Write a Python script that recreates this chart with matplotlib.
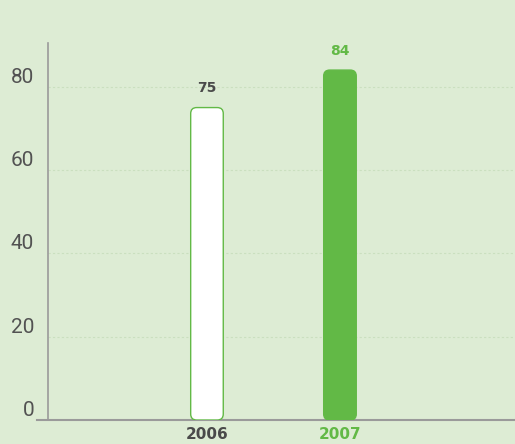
import numpy as np
import matplotlib
matplotlib.use("Agg")
import matplotlib.pyplot as plt
from matplotlib.patches import FancyBboxPatch

years = ["2006", "2007"]
values = [75, 84]
yticks = [0, 20, 40, 60, 80]

bg = "#ddecd4"
green = "#62b946"
dark = "#4a4a4a"
axis_grey = "#9a9a9a"

W, H = 515, 444
fig = plt.figure(figsize=(W / 100, H / 100), dpi=100, facecolor=bg)
left_px, right_px, bottom_px, top_px = 37, 515, 420, 43
ax = fig.add_axes([left_px / W, (H - bottom_px) / H,
                   (right_px - left_px) / W, (bottom_px - top_px) / H])
ax.set_facecolor(bg)

x = np.arange(len(years))
xmin, xmax = -1.278, 2.316
ymax = 90.5
ax.set_xlim(xmin, xmax)
ax.set_ylim(0, ymax)

# pixel scales, used to keep the corner rounding circular
px_x = (right_px - left_px) / (xmax - xmin)
px_y = (bottom_px - top_px) / ymax
aspect = px_x / px_y
yaxis_x = xmin + 11 / px_x

bars = ax.bar(x, values, width=0.245)
for i, rect in enumerate(bars):
    rect.set_visible(False)
    r = 6 / px_x
    face = "white" if i == 0 else green
    p = FancyBboxPatch((rect.get_x(), 0), rect.get_width(), rect.get_height(),
                       boxstyle=f"round,pad=0,rounding_size={r}",
                       mutation_aspect=aspect, facecolor=face,
                       edgecolor=green, linewidth=1.0, zorder=3)
    ax.add_patch(p)

# value labels
for i, v in enumerate(values):
    col = dark if i == 0 else green
    ax.annotate(str(v), (x[i], v), xytext=(0, 9), textcoords="offset points",
                ha="center", va="bottom", fontsize=10, fontweight="bold",
                color=col, family="DejaVu Sans")

# grid, starting at the y axis
ax.hlines(yticks[1:], yaxis_x, xmax, color="#cadfbf", lw=0.8,
          linestyles=[(0, (2, 2))], zorder=1)

for s in ["top", "right"]:
    ax.spines[s].set_visible(False)
ax.spines["left"].set_position(("data", yaxis_x))
ax.spines["left"].set_color(axis_grey)
ax.spines["left"].set_linewidth(1.2)
ax.spines["bottom"].set_color(axis_grey)
ax.spines["bottom"].set_linewidth(1.5)

ax.set_yticks(yticks)
ax.set_yticklabels([str(t) for t in yticks], fontsize=15, color="#525252",
                   family="Roboto")
ax.tick_params(axis="y", length=0, pad=10)
for lbl in ax.get_yticklabels():
    lbl.set_verticalalignment("bottom")

ax.set_xticks(x)
ax.set_xticklabels(years, fontsize=11, fontweight="bold", family="DejaVu Sans")
ax.tick_params(axis="x", length=0, pad=5)
ax.get_xticklabels()[0].set_color(dark)
ax.get_xticklabels()[1].set_color(green)

fig.savefig("out.png", dpi=100, facecolor=bg)
